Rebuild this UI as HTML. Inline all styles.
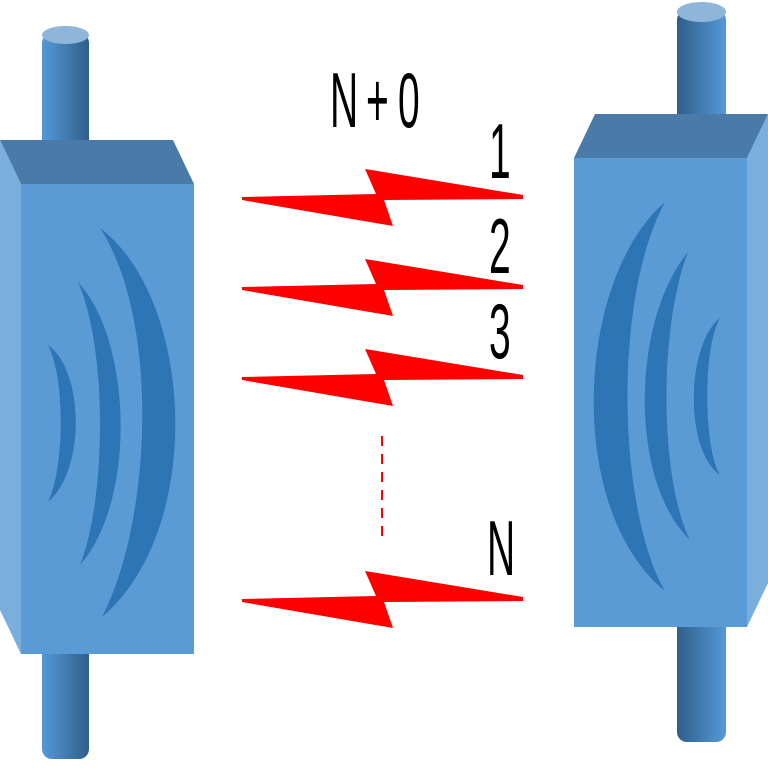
<!DOCTYPE html>
<html><head><meta charset="utf-8"><style>html,body{margin:0;padding:0;background:#fff}svg{display:block}</style></head>
<body>
<svg width="768" height="768" viewBox="0 0 768 768" xmlns="http://www.w3.org/2000/svg">
<defs>
<linearGradient id="cl" x1="0" x2="1" y1="0" y2="0"><stop offset="0" stop-color="#5599d8"/><stop offset="1" stop-color="#2f5f8a"/></linearGradient>
<linearGradient id="cr" x1="0" x2="1" y1="0" y2="0"><stop offset="0" stop-color="#2f5f8a"/><stop offset="1" stop-color="#5599d8"/></linearGradient>
<g id="bolt"><polygon points="242,197 376,194 365,169 523,195 523,199 384,200 393,226 242,200" fill="#ff0000"/></g>
</defs>
<!-- left device -->
<rect x="42" y="33" width="47" height="726" rx="10" fill="url(#cl)"/>
<ellipse cx="65.5" cy="35" rx="23.5" ry="9" fill="#8fb5da"/>
<polygon points="0,140 21,184 21,654 0,610" fill="#7aaedd"/>
<polygon points="0,140 173,140 194,184 21,184" fill="#4a7ba8"/>
<rect x="21" y="184" width="173" height="470" fill="#5b9bd5"/>
<path d="M100,228 C195,300 205,530 102,617 C152,520 160,320 100,228 Z" fill="#2e75b6"/>
<path d="M78,282 C132,340 137,500 80,565 C106,500 108,350 78,282 Z" fill="#2e75b6"/>
<path d="M48,345 C84,370 86,470 48,502 C64,470 66,380 48,345 Z" fill="#2e75b6"/>
<!-- right device -->
<rect x="677" y="10" width="49" height="732" rx="10" fill="url(#cr)"/>
<ellipse cx="701.5" cy="12" rx="24.5" ry="10" fill="#8fb5da"/>
<polygon points="747,158 768,114 768,583 747,627" fill="#7aaedd"/>
<polygon points="595,114 768,114 747,158 574,158" fill="#4a7ba8"/>
<rect x="574" y="158" width="173" height="469" fill="#5b9bd5"/>
<path d="M665,202 C575,280 565,510 665,591 C618,510 612,300 665,202 Z" fill="#2e75b6"/>
<path d="M688,252 C632,320 628,480 690,540 C660,480 658,330 688,252 Z" fill="#2e75b6"/>
<path d="M720,318 C686,345 684,450 720,475 C704,450 702,350 720,318 Z" fill="#2e75b6"/>
<!-- bolts -->
<use href="#bolt"/>
<use href="#bolt" transform="translate(0,90)"/>
<use href="#bolt" transform="translate(0,180)"/>
<use href="#bolt" transform="translate(0,402)"/>
<line x1="382" y1="436" x2="382" y2="542" stroke="#ff0000" stroke-width="2" stroke-dasharray="10,8"/>
<g font-family="Liberation Sans, sans-serif" font-size="78" fill="#000">
<text transform="translate(330,127) scale(0.5,1)">N</text>
<text transform="translate(366,127) scale(0.5,1)">+</text>
<text transform="translate(398,127) scale(0.5,1)">0</text>
<text transform="translate(489,178) scale(0.5,1)">1</text>
<text transform="translate(489,273) scale(0.5,1)">2</text>
<text transform="translate(489,358) scale(0.5,1)">3</text>
<text transform="translate(487,575) scale(0.5,1)">N</text>
</g>
</svg>
</body></html>
